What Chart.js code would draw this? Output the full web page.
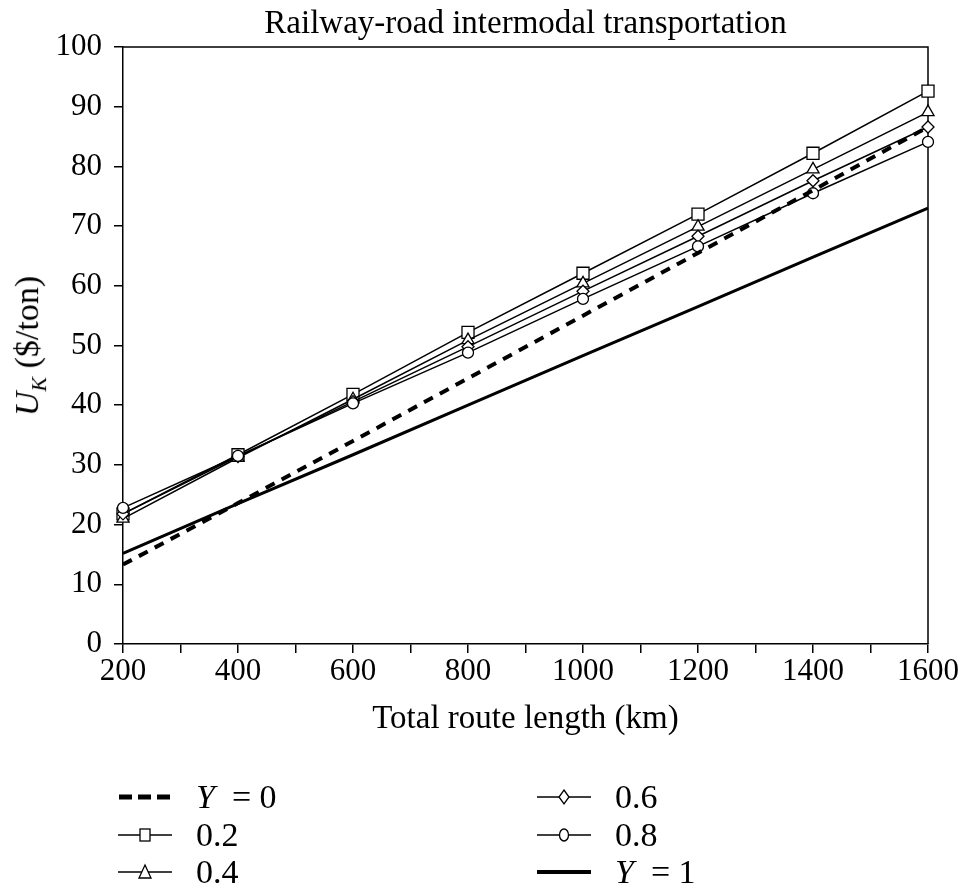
<!DOCTYPE html>
<html>
<head>
<meta charset="utf-8">
<script src="https://cdn.jsdelivr.net/npm/chart.js@4.4.1/dist/chart.umd.min.js"></script>
<style>
  html, body { margin: 0; padding: 0; background: #fff; }
  #wrap { position: relative; width: 962px; height: 890px; font-family: "Liberation Serif", serif; color: #000; }
  #chart { position: absolute; left: 0; top: 0; }
  #title { position: absolute; left: 123px; width: 805px; top: 3px; text-align: center; font-size: 33px; line-height: 38px; }
  #ytitle { position: absolute; left: 30px; top: 346px; transform: translate(-50%, -50%) rotate(-90deg); white-space: nowrap; font-size: 34px; }
  #ytitle sub { font-size: 22px; font-style: italic; }
  .item { position: absolute; display: flex; align-items: center; height: 36px; font-size: 34px; white-space: nowrap; }
  .item svg { margin-right: 24px; }
</style>
</head>
<body>
<div id="wrap">
  <canvas id="chart" width="962" height="890"></canvas>
  <div id="title">Railway-road intermodal transportation</div>
  <div id="ytitle"><i>U</i><sub>K</sub> ($/ton)</div>
  <div id="legend"></div>
</div>
<script>
// Total route length (km)
const routeLength = [200, 400, 600, 800, 1000, 1200, 1400, 1600];

// U_K ($/ton) for each Y
const costY0  = [13.3, 23.6, 34.0, 44.5, 55.0, 65.5, 76.0, 86.6];
const costY02 = [21.8, 31.7, 41.8, 52.2, 62.1, 72.0, 82.2, 92.6];
const costY04 = [21.0, 31.2, 41.0, 50.9, 60.4, 69.9, 79.5, 89.1];
const costY06 = [21.8, 31.4, 40.6, 49.8, 59.1, 68.3, 77.6, 86.6];
const costY08 = [22.8, 31.5, 40.3, 48.8, 57.8, 66.6, 75.5, 84.1];
const costY1  = [15.2, 23.5, 31.7, 40.0, 48.3, 56.5, 64.8, 73.0];

const seriesNames = ['Y = 0', '0.2', '0.4', '0.6', '0.8', 'Y = 1'];

const toPoints = arr => arr.map((v, i) => ({ x: routeLength[i], y: v }));

const base = {
  borderColor: '#000',
  pointBackgroundColor: '#fff',
  pointBorderColor: '#000',
  pointBorderWidth: 1.3,
  tension: 0,
  clip: false,
};

const datasets = [
  { ...base, label: seriesNames[0], data: toPoints(costY0), borderWidth: 4, borderDash: [10, 8], pointRadius: 0 },
  { ...base, label: seriesNames[5], data: toPoints(costY1), borderWidth: 3, pointRadius: 0 },
  { ...base, label: seriesNames[4], data: toPoints(costY08), borderWidth: 1.5, pointStyle: 'circle', pointRadius: 5.5 },
  { ...base, label: seriesNames[3], data: toPoints(costY06), borderWidth: 1.5, pointStyle: 'rectRot', pointRadius: 6 },
  { ...base, label: seriesNames[2], data: toPoints(costY04), borderWidth: 1.5, pointStyle: 'triangle', pointRadius: 7 },
  { ...base, label: seriesNames[1], data: toPoints(costY02), borderWidth: 1.5, pointStyle: 'rect', pointRadius: 8.5 },
];

// top and right sides of the frame
const frame = {
  id: 'frame',
  beforeDatasetsDraw(chart) {
    const { ctx, chartArea: a } = chart;
    ctx.save();
    ctx.strokeStyle = '#000';
    ctx.lineWidth = 1.5;
    ctx.beginPath();
    ctx.moveTo(a.left, a.top);
    ctx.lineTo(a.right, a.top);
    ctx.lineTo(a.right, a.bottom);
    ctx.stroke();
    ctx.restore();
  }
};

const tickFont = { family: '"Liberation Serif", serif', size: 31 };
const titleFont = { family: '"Liberation Serif", serif', size: 33 };

new Chart(document.getElementById('chart'), {
  type: 'line',
  data: { datasets },
  options: {
    responsive: false,
    animation: false,
    layout: { padding: { top: 47, right: 34, bottom: 130, left: 0 } },
    plugins: { legend: { display: false }, tooltip: { enabled: false } },
    scales: {
      x: {
        type: 'linear',
        min: 200, max: 1600,
        afterFit: s => { s.height = 116; },
        ticks: {
          stepSize: 100, autoSkip: false, maxRotation: 0, padding: 0,
          color: '#000', font: tickFont,
          callback: v => (v % 200 === 0 ? v : '')
        },
        grid: { drawOnChartArea: false, tickLength: 9, color: '#000', lineWidth: 1.5 },
        border: { color: '#000', width: 1.5 },
        title: { display: true, text: 'Total route length (km)', color: '#000', font: titleFont, padding: { top: 4, bottom: 21 } }
      },
      y: {
        min: 0, max: 100,
        afterFit: s => { s.width = 123; },
        ticks: { stepSize: 10, padding: 12, color: '#000', font: tickFont },
        grid: { drawOnChartArea: false, tickLength: 9, color: '#000', lineWidth: 1.5 },
        border: { color: '#000', width: 1.5 }
      }
    }
  },
  plugins: [frame]
});

// legend, two columns
function sample(ds) {
  const w = 54, h = 30, cy = 15, cx = w / 2;
  let s = `<svg width="${w}" height="${h}">`;
  if (ds.borderDash) {
    s += `<line x1="1" y1="${cy}" x2="${w}" y2="${cy}" stroke="#000" stroke-width="5" stroke-dasharray="13,6"/>`;
  } else {
    s += `<line x1="0" y1="${cy}" x2="${w}" y2="${cy}" stroke="#000" stroke-width="${ds.borderWidth === 3 ? 4 : 1.5}"/>`;
  }
  if (ds.pointStyle === 'rect') s += `<rect x="${cx - 5}" y="${cy - 6}" width="10" height="12" fill="#fff" stroke="#000" stroke-width="1.3"/>`;
  if (ds.pointStyle === 'triangle') s += `<polygon points="${cx},${cy - 7} ${cx + 6},${cy + 6} ${cx - 6},${cy + 6}" fill="#fff" stroke="#000" stroke-width="1.3"/>`;
  if (ds.pointStyle === 'rectRot') s += `<polygon points="${cx},${cy - 7} ${cx + 5},${cy} ${cx},${cy + 7} ${cx - 5},${cy}" fill="#fff" stroke="#000" stroke-width="1.3"/>`;
  if (ds.pointStyle === 'circle') s += `<ellipse cx="${cx}" cy="${cy}" rx="4.5" ry="6" fill="#fff" stroke="#000" stroke-width="1.3"/>`;
  return s + '</svg>';
}
const legendLayout = [
  { name: seriesNames[0], left: 118, top: 797 },
  { name: seriesNames[1], left: 118, top: 835 },
  { name: seriesNames[2], left: 118, top: 872 },
  { name: seriesNames[3], left: 537, top: 797 },
  { name: seriesNames[4], left: 537, top: 835 },
  { name: seriesNames[5], left: 537, top: 872 },
];
const legend = document.getElementById('legend');
legendLayout.forEach(l => {
  const ds = datasets.find(d => d.label === l.name);
  const div = document.createElement('div');
  div.className = 'item';
  div.style.left = l.left + 'px';
  div.style.top = (l.top - 18) + 'px';
  const txt = l.name.startsWith('Y') ? `<i>Y</i>&nbsp;&nbsp;=&nbsp;${l.name.slice(4)}` : l.name;
  div.innerHTML = sample(ds) + `<span>${txt}</span>`;
  legend.appendChild(div);
});
</script>
</body>
</html>
